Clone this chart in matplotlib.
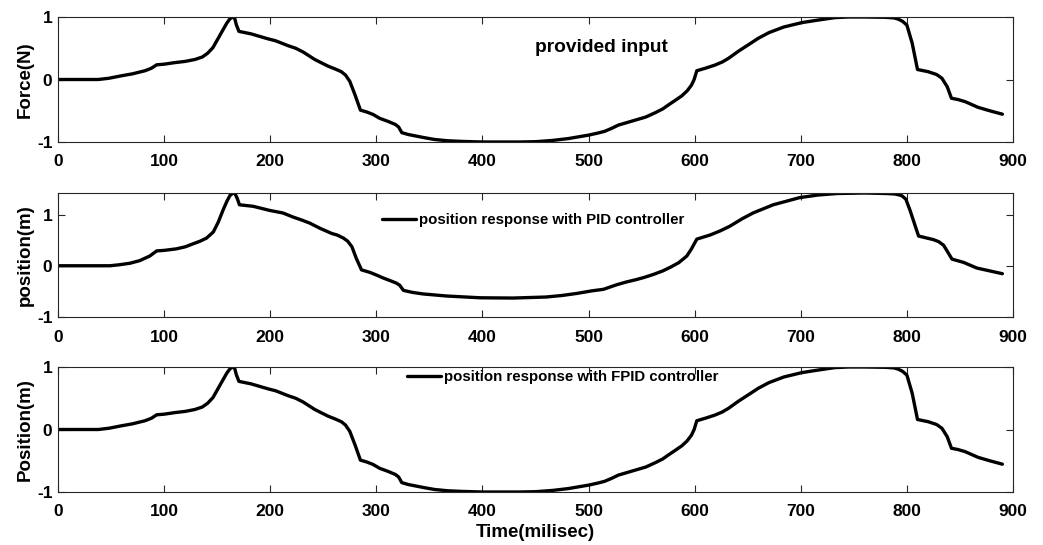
import matplotlib
matplotlib.use("Agg")
import matplotlib.pyplot as plt

plt.rcParams['font.family'] = ['Liberation Sans', 'DejaVu Sans']
plt.rcParams['font.weight'] = 'bold'
plt.rcParams['axes.unicode_minus'] = False

# force input (N) over time (ms)
t_force = [0, 38, 48, 60, 70, 82, 88, 93, 100, 110, 120, 129, 136, 141, 146, 151, 155, 159, 162,
           164.6, 166.5, 168, 170.5, 182, 190, 198, 205, 211, 217, 224, 231, 242, 249, 255, 261, 267, 271,
           275, 280, 285, 291, 297, 303, 311, 318, 321, 324, 330, 336, 345, 355, 367, 380, 400, 420,
           435, 450, 466, 481, 500, 508, 515, 522, 528, 536, 544, 554, 563, 570, 575, 582, 588, 593, 597,
           599.5, 602, 610, 619, 626, 632, 641, 651, 660, 670, 684, 701, 716, 732, 745, 760, 780, 788,
           792, 796, 800, 805, 810, 820, 828, 833, 838, 842, 848, 855, 867, 878, 890]
force = [0, 0, 0.02, 0.06, 0.09, 0.14, 0.18, 0.235, 0.245, 0.27, 0.29, 0.32, 0.36, 0.42, 0.51, 0.66,
         0.78, 0.90, 0.97,
         1.0, 0.98, 0.88, 0.77, 0.73, 0.69, 0.65, 0.62, 0.58, 0.54, 0.50, 0.44, 0.32, 0.26, 0.21, 0.17, 0.125, 0.07,
         -0.03, -0.25, -0.49, -0.52, -0.56, -0.62, -0.67, -0.72, -0.76, -0.85, -0.88, -0.90, -0.93, -0.96, -0.98, -0.99, -1.0, -1.0,
         -1.0, -0.995, -0.975, -0.945, -0.89, -0.86, -0.83, -0.78, -0.73, -0.69, -0.65, -0.60, -0.53, -0.47, -0.41, -0.33, -0.26, -0.18, -0.09,
         0.0, 0.14, 0.18, 0.23, 0.28, 0.34, 0.45, 0.56, 0.66, 0.75, 0.84, 0.91, 0.95, 0.99, 1.0, 1.0, 0.995, 0.985,
         0.965, 0.93, 0.87, 0.58, 0.16, 0.125, 0.08, 0.02, -0.115, -0.30, -0.32, -0.355, -0.445, -0.50, -0.555]

# position with PID controller (m)
t_pid = [0, 49, 58, 68, 77, 86.5, 93, 100, 111.6, 120, 127.5, 134, 140, 146.4, 151, 155.8, 159, 162,
         165, 167, 169, 171, 184, 199.5, 212, 221.6, 230, 237.5, 247, 258, 263, 269, 273, 277, 281, 286,
         294, 300, 306.6, 313, 319, 322, 325.5, 334, 344, 366, 398, 429, 460, 475, 489, 503, 514,
         521, 526.6, 535, 545, 552, 561, 570, 577, 585, 592.6, 597, 602, 614.5, 624, 633, 645, 655,
         674, 699, 716, 734, 760, 781, 789, 795, 799, 803, 811, 825, 830, 834.6, 839, 842.5, 853.5, 866,
         878, 890]
pid_pos = [0, 0, 0.02, 0.05, 0.10, 0.19, 0.29, 0.30, 0.33, 0.37, 0.43, 0.48, 0.54, 0.66, 0.85, 1.10, 1.25, 1.37,
           1.42, 1.40, 1.31, 1.19, 1.16, 1.08, 1.03, 0.95, 0.89, 0.83, 0.73, 0.63, 0.60, 0.54, 0.48, 0.37, 0.15, -0.08,
           -0.13, -0.18, -0.24, -0.29, -0.34, -0.38, -0.48, -0.52, -0.55, -0.59, -0.625, -0.63, -0.61, -0.58, -0.54, -0.49, -0.46,
           -0.41, -0.37, -0.32, -0.27, -0.23, -0.17, -0.10, -0.03, 0.06, 0.19, 0.33, 0.52, 0.60, 0.68, 0.77, 0.92, 1.03,
           1.19, 1.33, 1.38, 1.41, 1.42, 1.41, 1.40, 1.37, 1.30, 1.08, 0.58, 0.51, 0.47, 0.40, 0.25, 0.13, 0.065, -0.045,
           -0.10, -0.155]

# position with FPID controller (m) - follows the input
t_fpid = t_force
fpid_pos = force

xticks = [0, 100, 200, 300, 400, 500, 600, 700, 800, 900]
yticks = [-1, 0, 1]

W, H = 1043, 545
fig = plt.figure(figsize=(W / 100, H / 100), dpi=100)

def make_axes(top_px, bot_px):
    return fig.add_axes([58 / W, 1 - bot_px / H, 955 / W, (bot_px - top_px) / H])

ax1 = make_axes(17, 142)
ax2 = make_axes(193, 317)
ax3 = make_axes(367, 492)

line_kw = dict(color='black', lw=2.4, solid_joinstyle='round', solid_capstyle='round')
ax1.plot(t_force, force, **line_kw)
ax2.plot(t_pid, pid_pos, label='position response with PID controller', **line_kw)
ax3.plot(t_fpid, fpid_pos, label='position response with FPID controller', **line_kw)

ax1.set_ylim(-1, 1)
ax2.set_ylim(-1, max(pid_pos))
ax3.set_ylim(-1, 1)

for ax in (ax1, ax2, ax3):
    ax.set_xlim(0, 900)
    ax.set_xticks(xticks)
    ax.set_yticks(yticks)
    ax.tick_params(direction='in', top=True, right=True, length=5, width=0.8,
                   color='#262626', labelsize=12.5)
    ax.tick_params(axis='x', pad=9)
    ax.tick_params(axis='y', pad=4)
    for sp in ax.spines.values():
        sp.set_color('#262626')
        sp.set_linewidth(0.8)
    for lbl in ax.get_xticklabels() + ax.get_yticklabels():
        lbl.set_fontweight('bold')

ax1.set_ylabel('Force(N)', fontsize=13.5, fontweight='bold', labelpad=2)
ax2.set_ylabel('position(m)', fontsize=13.5, fontweight='bold', labelpad=2)
ax3.set_ylabel('Position(m)', fontsize=13.5, fontweight='bold', labelpad=2)
ax3.set_xlabel('Time(milisec)', fontsize=13.5, fontweight='bold', labelpad=3)

ax1.text(450, 0.52, 'provided input', fontsize=13.8, fontweight='bold', va='center', ha='left')

leg_kw = dict(frameon=False, loc='center left', borderaxespad=0, borderpad=0,
              handlelength=2.3, handletextpad=0.2, prop={'weight': 'bold', 'size': 10.8})
ax2.legend(bbox_to_anchor=(0.339, 0.78), **leg_kw)
ax3.legend(bbox_to_anchor=(0.365, 0.918), **leg_kw)

fig.savefig('out.png', dpi=100)
